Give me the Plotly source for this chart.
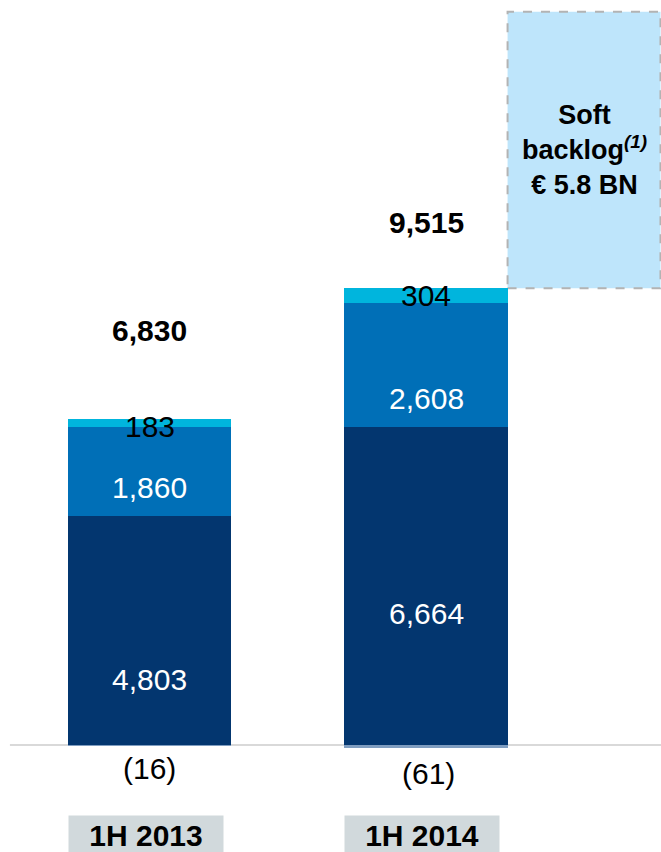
import plotly.graph_objects as go

categories = ["1H 2013", "1H 2014"]
seg_base = [4803, 6664]        # dark navy
seg_mid = [1860, 2608]         # medium blue
seg_top = [183, 304]           # cyan
seg_neg = [-16, -61]           # negative adjustments
totals = ["6,830", "9,515"]
neg_labels = ["(16)", "(61)"]
soft_backlog = 5800            # € 5.8 BN

FONT = "Liberation Sans, Arial, sans-serif"
C_NAVY = "#03366f"
C_MID = "#006fb7"
C_CYAN = "#00b5dd"
C_NEG = "#7f9dc0"

x = [0, 1]
bar_w = 0.59

fig = go.Figure()
for vals, col in [(seg_base, C_NAVY), (seg_mid, C_MID), (seg_top, C_CYAN), (seg_neg, C_NEG)]:
    fig.add_trace(go.Bar(x=x, y=vals, width=bar_w, marker=dict(color=col, line=dict(width=0)),
                         hoverinfo="skip", showlegend=False))

ann = []
# segment labels
shifts_base = [-49, -27]
shifts_mid = [-16, -33]
shifts_top = [-4, 0]
for i in range(2):
    b, m, t = seg_base[i], seg_mid[i], seg_top[i]
    ann.append(dict(x=x[i], y=b / 2, text=f"{b:,}", yshift=shifts_base[i],
                    font=dict(family=FONT, size=30, color="white"), showarrow=False))
    ann.append(dict(x=x[i], y=b + m / 2, text=f"{m:,}", yshift=shifts_mid[i],
                    font=dict(family=FONT, size=30, color="white"), showarrow=False))
    ann.append(dict(x=x[i], y=b + m + t / 2, text=f"{t:,}", yshift=shifts_top[i],
                    font=dict(family=FONT, size=30, color="black"), showarrow=False))
    top = b + m + t
    tot_shift = [88, 66][i]
    ann.append(dict(x=x[i], y=top, text=f"<b>{totals[i]}</b>", yshift=tot_shift,
                    font=dict(family=FONT, size=30, color="black"), showarrow=False))
    ann.append(dict(x=x[i] + 0.01 * i, y=0, text=neg_labels[i], yshift=[-23, -28][i],
                    font=dict(family=FONT, size=30, color="black"), showarrow=False))
    ann.append(dict(x=x[i] - 0.013, y=0, yref="y", text=f"<b>{categories[i]}</b>",
                    yshift=-90, yanchor="middle",
                    width=152, height=36, bgcolor="#d1d9dc",
                    font=dict(family=FONT, size=30, color="black"), showarrow=False))

# soft backlog box
stack_top = seg_base[1] + seg_mid[1] + seg_top[1]
box_x0 = x[1] + bar_w / 2
box_x1 = 1.848
fig.add_shape(type="rect", x0=box_x0, x1=box_x1, y0=stack_top, y1=stack_top + soft_backlog,
              fillcolor="#bee5fb", line=dict(color="#b3b3b3", width=2, dash="dash"), layer="below")
ann.append(dict(x=(box_x0 + box_x1) / 2, y=stack_top + soft_backlog * 0.5,
                text="<b>Soft<br>backlog<sup><i>(1)</i></sup><br>€ 5.8 BN</b>",
                font=dict(family=FONT, size=27, color="black"), showarrow=False))

# baseline
fig.add_shape(type="line", xref="paper", x0=0.015, x1=1, yref="y", y0=0, y1=0,
              line=dict(color="#d9d9d9", width=2), layer="below")

px_per_unit = 0.04769
y_top = 745 / px_per_unit
y_bot = -(852 - 745) / px_per_unit
fig.update_layout(
    width=661, height=852,
    margin=dict(l=0, r=0, t=0, b=0),
    paper_bgcolor="white", plot_bgcolor="white",
    barmode="relative", bargap=0,
    xaxis=dict(visible=False, range=[-149.5 / 276.5, -149.5 / 276.5 + 661 / 276.5]),
    yaxis=dict(visible=False, range=[y_bot, y_top]),
    annotations=ann,
)
fig.write_html("out.html")
